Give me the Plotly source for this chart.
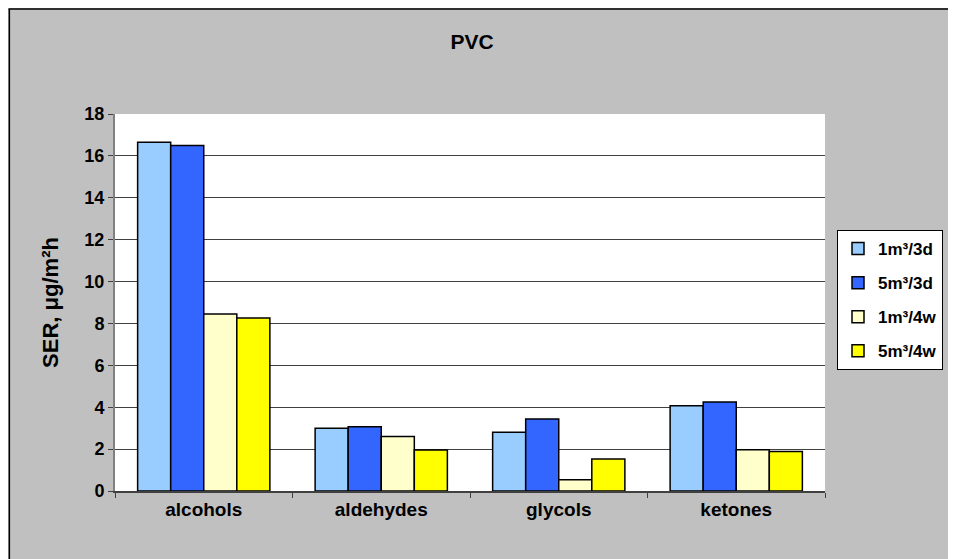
import plotly.graph_objects as go

# SER per compound class, PVC
categories = ["alcohols", "aldehydes", "glycols", "ketones"]
ser_1m3_3d = [16.65, 3.0, 2.8, 4.07]
ser_5m3_3d = [16.5, 3.07, 3.44, 4.25]
ser_1m3_4w = [8.45, 2.6, 0.54, 1.97]
ser_5m3_4w = [8.26, 1.96, 1.53, 1.88]

series = [
    ("1m³/3d", ser_1m3_3d, "#99CCFF"),
    ("5m³/3d", ser_5m3_3d, "#3366FF"),
    ("1m³/4w", ser_1m3_4w, "#FFFFCC"),
    ("5m³/4w", ser_5m3_4w, "#FFFF00"),
]

fig = go.Figure()
for name, vals, col in series:
    fig.add_trace(go.Bar(x=categories, y=vals, name="<b>" + name + "</b>", legendgroup=name,
                         marker=dict(color=col, line=dict(color="black", width=1.5))))

# page body adds 8px, so figure coords are screen coords minus 8
W, H = 940, 551
L, R, T, B = 107, 821, 106, 483


def px_x(p):
    return (p - L) / (R - L)


def px_y(p):
    return (B - p) / (B - T)


fig.update_layout(
    width=W, height=H,
    margin=dict(l=L, r=W - R, t=T, b=H - B),
    paper_bgcolor="#C0C0C0",
    plot_bgcolor="white",
    barmode="group", bargap=0.255, bargroupgap=0,
    font=dict(family="Liberation Sans, Arial", size=18, color="black"),
    title=dict(text="<b>PVC</b>", x=464 / W, xanchor="center", xref="container",
               y=1 - 34 / H, yanchor="middle",
               font=dict(size=21)),
    legend=dict(xref="container", yref="container",
                x=829 / W, xanchor="left", y=1 - 222 / H, yanchor="top",
                bgcolor="white", bordercolor="black", borderwidth=1,
                font=dict(size=17), tracegroupgap=9,
                itemwidth=30),
    showlegend=True,
    shapes=[
        dict(type="line", xref="paper", yref="paper",
             x0=px_x(0), x1=px_x(1000), y0=px_y(1), y1=px_y(1),
             line=dict(color="black", width=1.5)),
        dict(type="line", xref="paper", yref="paper",
             x0=px_x(0.75), x1=px_x(0.75), y0=px_y(1), y1=px_y(600),
             line=dict(color="black", width=1.5)),
    ],
)

fig.update_xaxes(
    showline=True, linecolor="#404040", linewidth=1.5,
    ticks="outside", tickson="boundaries", ticklen=5, tickcolor="#404040",
    tickvals=categories, ticktext=["<b>" + c + "</b>" for c in categories],
    tickfont=dict(size=19), showgrid=False,
)
fig.update_yaxes(
    range=[0, 18], dtick=2, showline=True, linecolor="#808080", linewidth=2,
    ticks="outside", ticklen=5, tickcolor="#404040",
    showgrid=True, gridcolor="#404040", gridwidth=1, zeroline=False,
    tickvals=list(range(0, 19, 2)), ticktext=["<b>%d</b>" % v for v in range(0, 19, 2)],
    tickfont=dict(size=18),
    title=dict(text="<b>SER, μg/m²h</b>", font=dict(size=22), standoff=20),
)

fig.write_html("out.html")
